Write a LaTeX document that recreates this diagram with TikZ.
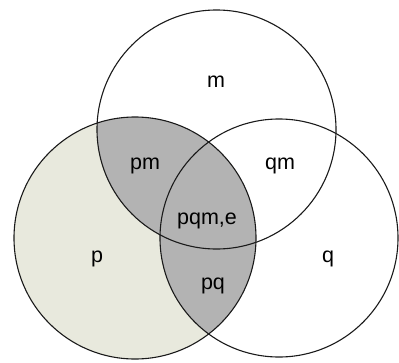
\documentclass[tikz,border=0pt]{standalone}
\usepackage{fontspec}
\setmainfont{Liberation Sans}
\definecolor{light}{HTML}{E8E9DD}
\definecolor{mid}{HTML}{B3B3B3}
\definecolor{edge}{HTML}{1A1A1A}
\begin{document}
\begin{tikzpicture}[x=1pt,y=-1pt,
  ring/.style={draw=edge,line width=1.1pt},
  lab/.style={anchor=base,inner sep=0pt,font=\fontsize{21.5}{21.5}\selectfont}]
\useasboundingbox (0,0) rectangle (399,362);
\coordinate (cm) at (216.5,129.5);
\coordinate (cp) at (135,238);
\coordinate (cq) at (279,238);
\fill[light] (cp) circle (121);
\begin{scope}
  \clip (cp) circle (121);
  \fill[mid] (cm) circle (119.5);
  \fill[mid] (cq) circle (119);
\end{scope}
\draw[ring] (cm) circle (119.5);
\draw[ring] (cp) circle (121);
\draw[ring] (cq) circle (119);
\node[lab] (lm) at (216,87) {m};
\node[lab] (lpm) at (145,169) {pm};
\node[lab] (lqm) at (280,169) {qm};
\node[lab] (lpqm) at (207,224) {pqm,e};
\node[lab] (lp) at (97,262) {p};
\node[lab] (lq) at (328,262) {q};
\node[lab] (lpq) at (213,289) {pq};
\end{tikzpicture}
\end{document}
